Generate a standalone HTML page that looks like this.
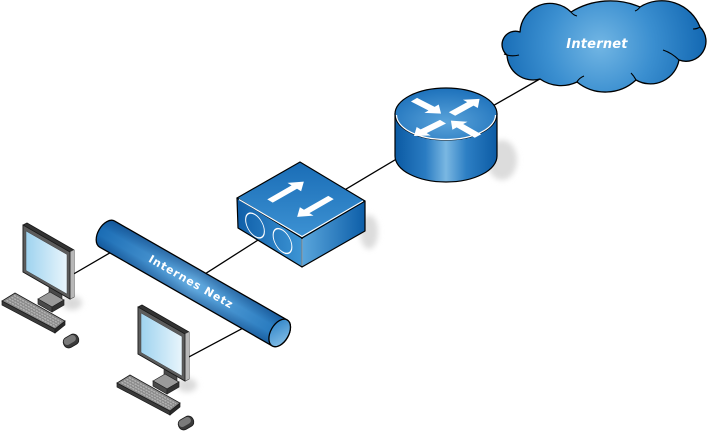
<!DOCTYPE html>
<html><head><meta charset="utf-8"><style>
html,body{margin:0;padding:0;background:#fff;}
svg{display:block;}
</style></head><body>
<svg width="707" height="432" viewBox="0 0 707 432" xmlns="http://www.w3.org/2000/svg">
<defs>
<filter id="blur" x="-50%" y="-50%" width="200%" height="200%"><feGaussianBlur stdDeviation="3"/></filter>
<radialGradient id="cloudG" cx="600" cy="45" r="105" gradientUnits="userSpaceOnUse">
<stop offset="0" stop-color="#72b6e4"/><stop offset="0.5" stop-color="#3b8fd0"/><stop offset="1" stop-color="#1469b3"/></radialGradient>
<linearGradient id="rSide" x1="395" y1="0" x2="497" y2="0" gradientUnits="userSpaceOnUse">
<stop offset="0" stop-color="#0b5aa3"/><stop offset="0.3" stop-color="#2a7cc2"/><stop offset="0.5" stop-color="#7ab7e2"/><stop offset="0.7" stop-color="#2d7fc4"/><stop offset="1" stop-color="#0c5ba4"/></linearGradient>
<radialGradient id="rTop" cx="0.5" cy="0.65" r="0.65">
<stop offset="0" stop-color="#5aa3da"/><stop offset="1" stop-color="#1d71bb"/></radialGradient>
<linearGradient id="sTop" x1="0" y1="0" x2="0" y2="1">
<stop offset="0" stop-color="#1a6db6"/><stop offset="1" stop-color="#3d92d3"/></linearGradient>
<linearGradient id="sLeft" x1="0" y1="0" x2="1" y2="0">
<stop offset="0" stop-color="#0f5ea8"/><stop offset="1" stop-color="#3d95d5"/></linearGradient>
<linearGradient id="sRight" x1="0" y1="0" x2="1" y2="0">
<stop offset="0" stop-color="#5aa6dc"/><stop offset="1" stop-color="#0d5ea8"/></linearGradient>
<linearGradient id="tubeL" x1="0" y1="0" x2="1" y2="0">
<stop offset="0" stop-color="#1a6cb4"/><stop offset="0.5" stop-color="#62aadf"/><stop offset="1" stop-color="#1e72b9"/></linearGradient>
<linearGradient id="tubeP" x1="0" y1="0" x2="0" y2="1">
<stop offset="0" stop-color="#002a66" stop-opacity="0.4"/><stop offset="0.4" stop-color="#002a66" stop-opacity="0"/><stop offset="0.65" stop-color="#002a66" stop-opacity="0"/><stop offset="1" stop-color="#002a66" stop-opacity="0.35"/></linearGradient>
<linearGradient id="capG" x1="0" y1="0" x2="1" y2="1">
<stop offset="0" stop-color="#2a80c5"/><stop offset="1" stop-color="#8cc4ea"/></linearGradient>
<linearGradient id="scr" x1="0" y1="0" x2="1" y2="0">
<stop offset="0" stop-color="#9fd3ef"/><stop offset="1" stop-color="#e8f5fc"/></linearGradient>
</defs>

<!-- shadows -->
<ellipse cx="502" cy="160" rx="15" ry="20" fill="#dcdcdc" filter="url(#blur)"/>
<ellipse cx="369" cy="232" rx="9" ry="17" fill="#dcdcdc" filter="url(#blur)"/>

<!-- connectors -->
<g stroke="#000" stroke-width="1.3" fill="none">
<line x1="470" y1="119" x2="545" y2="76"/>
<line x1="330" y1="198.7" x2="420" y2="145"/>
<line x1="195" y1="280.3" x2="265" y2="235.6"/>
<line x1="65" y1="279" x2="120" y2="247"/>
<line x1="180" y1="361.7" x2="252" y2="323.3"/>
</g>

<!-- tube -->
<g transform="translate(107,234) rotate(29.8)">
<path d="M0,-15 L199,-15 A9,15 0 0 1 199,15 L0,15 A9,15 0 0 1 0,-15 Z" fill="url(#tubeL)"/>
<path d="M0,-15 L199,-15 A9,15 0 0 1 199,15 L0,15 A9,15 0 0 1 0,-15 Z" fill="url(#tubeP)" stroke="#000" stroke-width="1.3"/>
<ellipse cx="199" cy="0" rx="9" ry="15" fill="url(#capG)" stroke="#000" stroke-width="1.3"/>
</g>
<text transform="translate(191,282) rotate(29.8)" text-anchor="middle" dominant-baseline="central" font-family="'DejaVu Sans','Liberation Sans',sans-serif" font-weight="bold" font-size="11" letter-spacing="0.9" fill="#fff">Internes Netz</text>

<!-- switch -->
<g stroke="#000" stroke-width="1.2" stroke-linejoin="round">
<polygon points="237,198 302,238 302,267 238,228" fill="url(#sLeft)"/>
<polygon points="302,238 365,201 365,231 302,267" fill="url(#sRight)"/>
<polygon points="237,198 300,162 365,201 302,238" fill="url(#sTop)"/>
</g>
<polyline points="239,199.5 302,236.5 363,201" fill="none" stroke="#fff" stroke-width="1.1"/>
<line x1="302" y1="239" x2="302" y2="266" stroke="#cfe6f7" stroke-width="0.8"/>
<g fill="none" stroke="#fff" stroke-width="1.2">
<circle cx="0" cy="0" r="11" transform="matrix(0.851,0.524,0,1,255,225.5)"/>
<circle cx="0" cy="0" r="11" transform="matrix(0.851,0.524,0,1,282.5,241)"/>
</g>
<g fill="#fff">
<path d="M0,-3.2 L28,-3.2 L28,-8 L39,0 L28,8 L28,3.2 L0,3.2 Z" transform="matrix(0.868,-0.496,0.851,0.524,270,201)"/>
<path d="M0,-3.2 L28,-3.2 L28,-8 L39,0 L28,8 L28,3.2 L0,3.2 Z" transform="matrix(-0.868,0.496,0.851,0.524,331,197.5)"/>
</g>

<!-- router -->
<path d="M395,114 L395,156 A51,26 0 0 0 497,156 L497,114 Z" fill="url(#rSide)" stroke="#000" stroke-width="1.2"/>
<ellipse cx="446" cy="114" rx="51" ry="26" fill="url(#rTop)" stroke="#000" stroke-width="1.2"/>
<path d="M396.5,115 A49.5,24.5 0 0 0 495.5,115" fill="none" stroke="#fff" stroke-width="1.2"/>
<g transform="translate(446,114) scale(1,0.55)" fill="#fff">
<path d="M0,-4.5 L24,-4.5 L24,-10.5 L37,0 L24,10.5 L24,4.5 L0,4.5 Z" transform="translate(-32,-26) rotate(43)"/>
<path d="M0,-4.5 L26,-4.5 L26,-10.5 L39,0 L26,10.5 L26,4.5 L0,4.5 Z" transform="translate(6,0) rotate(-45)"/>
<path d="M0,-4.5 L26,-4.5 L26,-10.5 L39,0 L26,10.5 L26,4.5 L0,4.5 Z" transform="translate(-3,14) rotate(138)"/>
<path d="M0,-4.5 L26,-4.5 L26,-10.5 L39,0 L26,10.5 L26,4.5 L0,4.5 Z" transform="translate(32,40) rotate(-134)"/>
</g>

<!-- cloud -->
<path d="M520,32 A30,30 0 0 1 571,12 A75,75 0 0 1 640,7 A41,41 0 0 1 700,27 A20,20 0 0 1 679,60 A29,29 0 0 1 636,80 A45,45 0 0 1 577,82 A37,37 0 0 1 540,79 A26,26 0 0 1 507,55 A13.4,13.4 0 0 1 520,32 Z" fill="url(#cloudG)" stroke="#000" stroke-width="1.3" stroke-linejoin="round"/>
<g fill="none" stroke="#000" stroke-width="1.1">
<path d="M504,54 Q511,57 519,55"/>
<path d="M577,82 Q579,78 584,76"/>
<path d="M636,80 Q634,76 631,73"/>
<path d="M679,60 Q672,53 663,50"/>
<path d="M571,12 Q573,15 577,16"/>
<path d="M700,27 Q697,29 693,29"/>
<path d="M640,7 Q638,10 635,11"/>
</g>
<text x="597" y="48" text-anchor="middle" font-family="'DejaVu Sans','Liberation Sans',sans-serif" font-weight="bold" font-style="italic" font-size="13" letter-spacing="0.2" fill="#fff">Internet</text>

<!-- PC -->
<g id="pc">
<ellipse cx="72" cy="303" rx="10" ry="7" fill="#dadada" filter="url(#blur)"/>
<polygon points="49,286 62,293 62,301 49,294" fill="#4a4a4a" stroke="#222" stroke-width="0.6"/>
<polygon points="38,299 50,292 64,300 52,307" fill="#9a9a9a" stroke="#222" stroke-width="0.7"/>
<polygon points="38,299 52,307 52,312 38,304" fill="#4a4a4a" stroke="#222" stroke-width="0.7"/>
<polygon points="52,307 64,300 64,305 52,312" fill="#333" stroke="#222" stroke-width="0.7"/>
<polygon points="23,225 27,223 74,250 74,297 70,299 23,272" fill="#333" stroke="#1a1a1a" stroke-width="0.8"/>
<polygon points="70,252 74,250 74,297 70,299" fill="#b8b8b8"/>
<polygon points="23,225 70,252 70,299 23,272" fill="#5c5c5c" stroke="#1a1a1a" stroke-width="0.8"/>
<polygon points="26,231 67,254.5 67,294 26,270.5" fill="url(#scr)" stroke="#444" stroke-width="0.5"/>
<polygon points="2,301 55,329 55,333 2,305" fill="#3a3a3a" stroke="#1a1a1a" stroke-width="0.7"/>
<polygon points="55,329 65,321 65,325 55,333" fill="#2a2a2a" stroke="#1a1a1a" stroke-width="0.7"/>
<polygon points="15,293 65,321 55,329 2,301" fill="#8a8a8a" stroke="#1a1a1a" stroke-width="0.8"/>
<g stroke="#b4b4b4" stroke-width="1.4" stroke-dasharray="2.2,0.9">
<line x1="14" y1="295.5" x2="61" y2="321.8"/>
<line x1="11.5" y1="297.2" x2="59" y2="323.5"/>
<line x1="9" y1="298.8" x2="57" y2="325.2"/>
<line x1="6.5" y1="300.4" x2="55" y2="326.8"/>
</g>
<g transform="translate(71,341) rotate(-30)">
<rect x="-8" y="-5.5" width="16" height="11" rx="5" fill="#3a3a3a" stroke="#1a1a1a" stroke-width="0.8"/>
<rect x="-7" y="-5" width="13" height="7" rx="3.5" fill="#7a7a7a"/>
</g>
</g>
<use href="#pc" transform="translate(115,82)"/>
</svg>
</body></html>
